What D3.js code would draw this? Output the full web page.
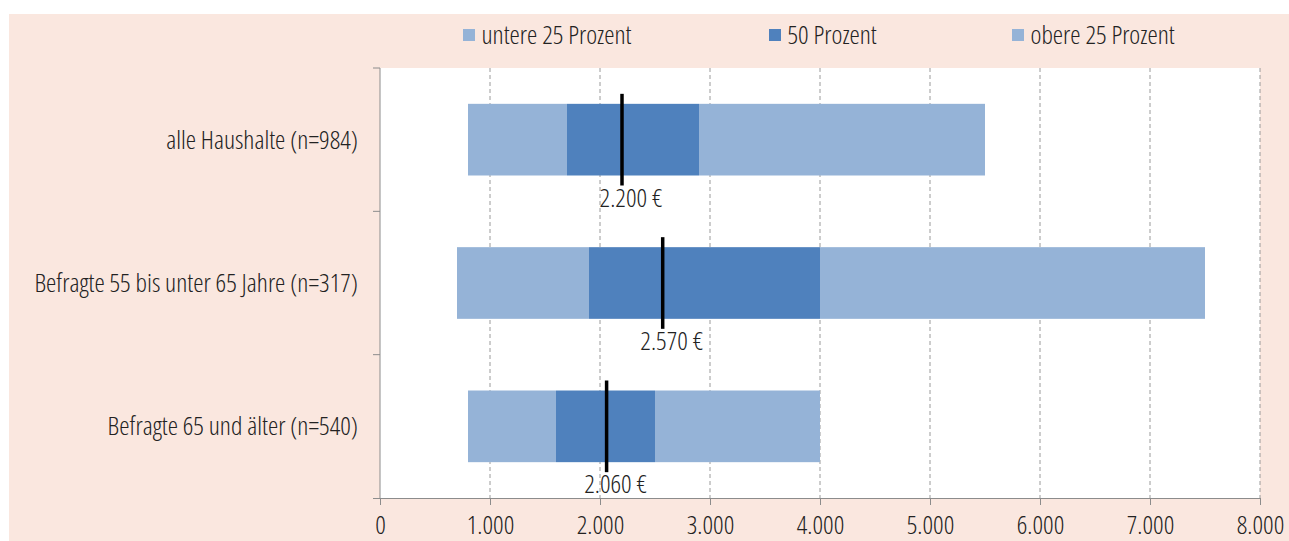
<!DOCTYPE html>
<html>
<head>
    <meta charset="utf-8">
    <title>Einkommensverteilung</title>
    <script src="https://d3js.org/d3.v7.min.js"></script>
    <style>
        body { margin: 0; background: #fff; }
        text { font-family: "Open Sans", sans-serif; font-stretch: condensed; font-weight: 300; fill: #222; }
    </style>
</head>
<body>
    <div id="chart"></div>
    <script>
        // Daten
        const categories = ["alle Haushalte (n=984)", "Befragte 55 bis unter 65 Jahre (n=317)", "Befragte 65 und älter (n=540)"];
        const seriesNames = ["untere 25 Prozent", "50 Prozent", "obere 25 Prozent"];
        const lowerStart = [800, 700, 800];
        const q1 = [1700, 1900, 1600];
        const q3 = [2900, 4000, 2500];
        const upperEnd = [5500, 7500, 4000];
        const medians = [2200, 2570, 2060];
        const xTicks = [0, 1000, 2000, 3000, 4000, 5000, 6000, 7000, 8000];

        const width = 1289, height = 541;
        const margin = { top: 68, right: 29, bottom: 43, left: 380 };
        const colors = ["#95b3d7", "#4f81bd", "#95b3d7"];
        const fontSize = "26px";

        const de = d3.formatLocale({ decimal: ",", thousands: ".", grouping: [3], currency: ["", " €"] });
        const fmt = de.format(",");

        const svg = d3.select("#chart").append("svg")
            .attr("width", width)
            .attr("height", height);

        // Hintergrund
        svg.append("rect")
            .attr("x", 9).attr("y", 14)
            .attr("width", width - 9).attr("height", height - 14)
            .attr("fill", "#fae7df");

        const x = d3.scaleLinear().domain([0, 8000]).range([margin.left, width - margin.right]);
        const y = d3.scaleBand().domain(categories)
            .range([margin.top, height - margin.bottom])
            .paddingInner(0.5).paddingOuter(0.25);

        // Plotfläche
        svg.append("rect")
            .attr("x", x(0)).attr("y", margin.top)
            .attr("width", x(8000) - x(0)).attr("height", height - margin.bottom - margin.top)
            .attr("fill", "#fff");

        // Gitterlinien
        svg.append("g").selectAll("line")
            .data(xTicks.filter(d => d > 0))
            .join("line")
            .attr("x1", d => x(d)).attr("x2", d => x(d))
            .attr("y1", margin.top).attr("y2", height - margin.bottom)
            .attr("stroke", "#9a9a9a")
            .attr("stroke-dasharray", "4,3");

        // Balken
        const rows = categories.map((c, i) => ({
            cat: c,
            segs: [[lowerStart[i], q1[i]], [q1[i], q3[i]], [q3[i], upperEnd[i]]],
            median: medians[i]
        }));

        const groups = svg.append("g").selectAll("g")
            .data(rows)
            .join("g");

        groups.selectAll("rect")
            .data(d => d.segs.map((s, j) => ({ s: s, j: j, cat: d.cat })))
            .join("rect")
            .attr("x", d => x(d.s[0]))
            .attr("y", d => y(d.cat))
            .attr("width", d => x(d.s[1]) - x(d.s[0]))
            .attr("height", y.bandwidth())
            .attr("fill", d => colors[d.j]);

        // Median
        groups.append("line")
            .attr("x1", d => x(d.median)).attr("x2", d => x(d.median))
            .attr("y1", d => y(d.cat) - 10)
            .attr("y2", d => y(d.cat) + y.bandwidth() + 10)
            .attr("stroke", "#000")
            .attr("stroke-width", 3.5);

        groups.append("text")
            .attr("x", d => x(d.median) + 9)
            .attr("y", d => y(d.cat) + y.bandwidth() + 31)
            .attr("text-anchor", "middle")
            .style("font-size", fontSize)
            .text(d => fmt(d.median) + " €");

        // Achsen
        const xAxis = svg.append("g")
            .attr("transform", `translate(0,${height - margin.bottom})`)
            .call(d3.axisBottom(x).tickValues(xTicks).tickFormat(fmt).tickSize(7).tickSizeOuter(0).tickPadding(11));
        xAxis.select(".domain").attr("d", `M${x(0) - 7},0.5H${x(8000)}`);
        xAxis.selectAll("line, path").attr("stroke", "#8c8c8c");
        xAxis.selectAll("text").style("font-size", fontSize).attr("fill", "#222").attr("font-family", null);

        const yAxis = svg.append("g")
            .attr("transform", `translate(${margin.left},0)`);
        yAxis.append("line")
            .attr("x1", 0).attr("x2", 0)
            .attr("y1", margin.top).attr("y2", height - margin.bottom)
            .attr("stroke", "#8c8c8c");
        const bounds = [margin.top].concat(categories.map(c => y(c) + y.bandwidth() + y.step() * 0.25));
        yAxis.selectAll(".btick")
            .data(bounds.slice(0, 3))
            .join("line")
            .attr("x1", -7).attr("x2", 0)
            .attr("y1", d => d).attr("y2", d => d)
            .attr("stroke", "#8c8c8c");
        yAxis.selectAll(".cat")
            .data(categories)
            .join("text")
            .attr("x", -22)
            .attr("y", d => y(d) + y.bandwidth() / 2)
            .attr("dy", "0.35em")
            .attr("text-anchor", "end")
            .style("font-size", fontSize)
            .text(d => d);

        // Legende
        const legendX = [463, 769, 1012];
        const legend = svg.append("g").selectAll("g")
            .data(seriesNames)
            .join("g")
            .attr("transform", (d, i) => `translate(${legendX[i]},29)`);
        legend.append("rect")
            .attr("width", 12).attr("height", 12)
            .attr("fill", (d, i) => colors[i]);
        legend.append("text")
            .attr("x", 18.5).attr("y", 6)
            .attr("dy", "0.35em")
            .style("font-size", fontSize)
            .text(d => d);
    </script>
</body>
</html>
